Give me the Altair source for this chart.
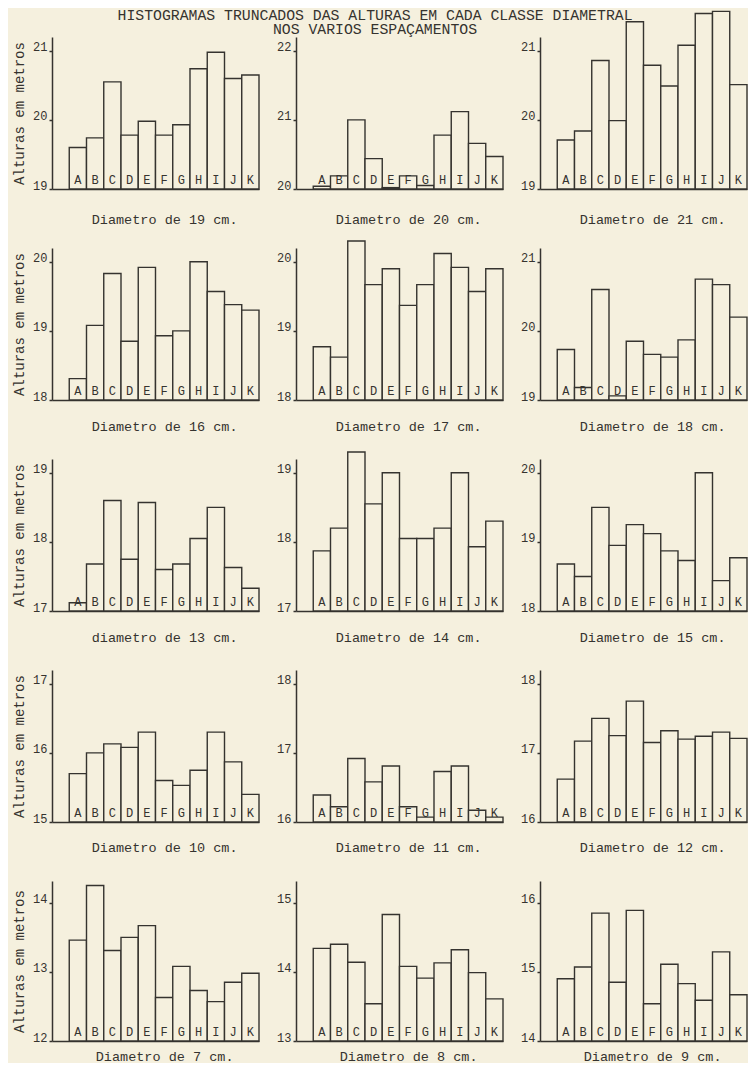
import altair as alt
import pandas as pd

# ---------------- data ----------------
letras = ["A", "B", "C", "D", "E", "F", "G", "H", "I", "J", "K"]

diametros = [19, 20, 21, 16, 17, 18, 13, 14, 15, 10, 11, 12, 7, 8, 9]
bases = [19, 20, 19, 18, 18, 19, 17, 17, 18, 15, 16, 16, 12, 13, 14]
legendas = [
    "Diametro de 19 cm.", "Diametro de 20 cm.", "Diametro de 21 cm.",
    "Diametro de 16 cm.", "Diametro de 17 cm.", "Diametro de 18 cm.",
    "diametro de 13 cm.", "Diametro de 14 cm.", "Diametro de 15 cm.",
    "Diametro de 10 cm.", "Diametro de 11 cm.", "Diametro de 12 cm.",
    "Diametro de 7 cm.", "Diametro de 8 cm.", "Diametro de 9 cm.",
]

alturas_d19 = [19.60, 19.74, 20.55, 19.78, 19.98, 19.78, 19.93, 20.74, 20.98, 20.60, 20.65]
alturas_d20 = [20.04, 20.19, 21.00, 20.44, 20.02, 20.19, 20.05, 20.78, 21.12, 20.66, 20.47]
alturas_d21 = [19.71, 19.84, 20.86, 19.99, 21.42, 20.79, 20.49, 21.08, 21.54, 21.57, 20.51]
alturas_d16 = [18.31, 19.08, 19.83, 18.85, 19.92, 18.93, 19.00, 20.00, 19.57, 19.38, 19.30]
alturas_d17 = [18.77, 18.62, 20.30, 19.67, 19.90, 19.37, 19.67, 20.12, 19.92, 19.57, 19.90]
alturas_d18 = [19.73, 19.18, 20.60, 19.06, 19.85, 19.66, 19.62, 19.87, 20.75, 20.67, 20.20]
alturas_d13 = [17.12, 17.68, 18.60, 17.75, 18.57, 17.60, 17.68, 18.05, 18.50, 17.63, 17.33]
alturas_d14 = [17.87, 18.20, 19.30, 18.55, 19.00, 18.05, 18.05, 18.20, 19.00, 17.93, 18.30]
alturas_d15 = [18.68, 18.50, 19.50, 18.95, 19.25, 19.12, 18.87, 18.73, 20.00, 18.44, 18.77]
alturas_d10 = [15.70, 16.00, 16.13, 16.08, 16.30, 15.60, 15.53, 15.75, 16.30, 15.87, 15.40]
alturas_d11 = [16.39, 16.22, 16.92, 16.58, 16.81, 16.22, 16.07, 16.73, 16.81, 16.17, 16.07]
alturas_d12 = [16.62, 17.17, 17.50, 17.25, 17.75, 17.15, 17.32, 17.20, 17.24, 17.30, 17.21]
alturas_d7 = [13.46, 14.25, 13.31, 13.50, 13.67, 12.63, 13.08, 12.73, 12.57, 12.85, 12.98]
alturas_d8 = [14.34, 14.40, 14.14, 13.54, 14.83, 14.08, 13.91, 14.13, 14.32, 13.99, 13.61]
alturas_d9 = [14.90, 15.07, 15.85, 14.85, 15.89, 14.54, 15.11, 14.83, 14.59, 15.29, 14.67]

titulo_l1 = "HISTOGRAMAS TRUNCADOS DAS ALTURAS EM CADA CLASSE DIAMETRAL"
titulo_l2 = "NOS VARIOS ESPAÇAMENTOS"
titulo_eixo_y = "Alturas em metros"

series = [alturas_d19, alturas_d20, alturas_d21,
          alturas_d16, alturas_d17, alturas_d18,
          alturas_d13, alturas_d14, alturas_d15,
          alturas_d10, alturas_d11, alturas_d12,
          alturas_d7, alturas_d8, alturas_d9]

# ---------------- style ----------------
INK = "#35332f"
PAPER = "#f5f0de"
FONT = "Liberation Mono"
W = 207
PX_PER_UNIT = 69.1
ROW_H = [152, 152, 152, 152, 160]
CAPTION_PAD = [23, 19, 19, 18, 8]


def painel(idx):
    valores = series[idx]
    base = bases[idx]
    row, col = divmod(idx, 3)
    h = ROW_H[row]
    span = h / PX_PER_UNIT
    df = pd.DataFrame({"esp": letras, "altura": valores, "base": [base] * 11})

    xscale = alt.Scale(domain=[" "] + letras, paddingInner=0, paddingOuter=0)
    xaxis = alt.Axis(labels=False, ticks=False, domain=True, domainColor=INK,
                     domainWidth=1.5, title=legendas[idx], titleFont=FONT,
                     titleFontSize=13.5, titleFontWeight="normal", titleColor=INK,
                     titlePadding=CAPTION_PAD[row], titleX=W * 6.5 / 12,
                     titleAlign="center")
    yscale = alt.Scale(domain=[base, base + span], zero=False, nice=False)
    ykw = dict(values=[base, base + 1, base + 2], format="d", grid=False,
               domainColor=INK, domainWidth=1.5, tickColor=INK, tickSize=3,
               tickWidth=1.5, labelFont=FONT, labelFontSize=12, labelColor=INK,
               labelBaseline="alphabetic", labelPadding=2, labelFlush=False,
               labelOverlap=False)
    if col == 0:
        ykw.update(title=titulo_eixo_y, titleFont=FONT, titleFontSize=14,
                   titleFontWeight="normal", titleColor=INK, titlePadding=6)
    else:
        ykw.update(title=None)
    yaxis = alt.Axis(**ykw)

    barras = alt.Chart(df).mark_bar(fill=PAPER, stroke=INK, strokeWidth=1.4).encode(
        x=alt.X("esp:N", scale=xscale, axis=xaxis),
        y=alt.Y("altura:Q", scale=yscale, axis=yaxis),
        y2=alt.Y2("base:Q"),
    )
    rotulos = alt.Chart(df).mark_text(font=FONT, fontSize=12, color=INK,
                                      baseline="bottom", dy=-2).encode(
        x=alt.X("esp:N", scale=xscale, axis=xaxis),
        y=alt.Y("base:Q", scale=yscale, axis=yaxis),
        text="esp:N",
    )
    camadas = [barras, rotulos]
    if idx == 1:
        t1 = alt.Chart(pd.DataFrame({"t": [titulo_l1]})).mark_text(
            font=FONT, fontSize=14.8, color=INK, align="center", baseline="middle"
        ).encode(x=alt.value(79), y=alt.value(-21), text="t:N")
        t2 = alt.Chart(pd.DataFrame({"t": [titulo_l2]})).mark_text(
            font=FONT, fontSize=14.8, color=INK, align="center", baseline="middle"
        ).encode(x=alt.value(79), y=alt.value(-7), text="t:N")
        camadas += [t1, t2]
    return alt.layer(*camadas).properties(width=W, height=h)


chart = alt.concat(*[painel(i) for i in range(15)], columns=3,
                   spacing={"row": 59, "column": 37}, bounds="flush").properties(
    background=PAPER,
    padding={"left": 4, "top": 0, "right": 0, "bottom": 0},
).configure_view(stroke=None)

chart.save("out.html", embed_options={"renderer": "svg", "actions": False})
